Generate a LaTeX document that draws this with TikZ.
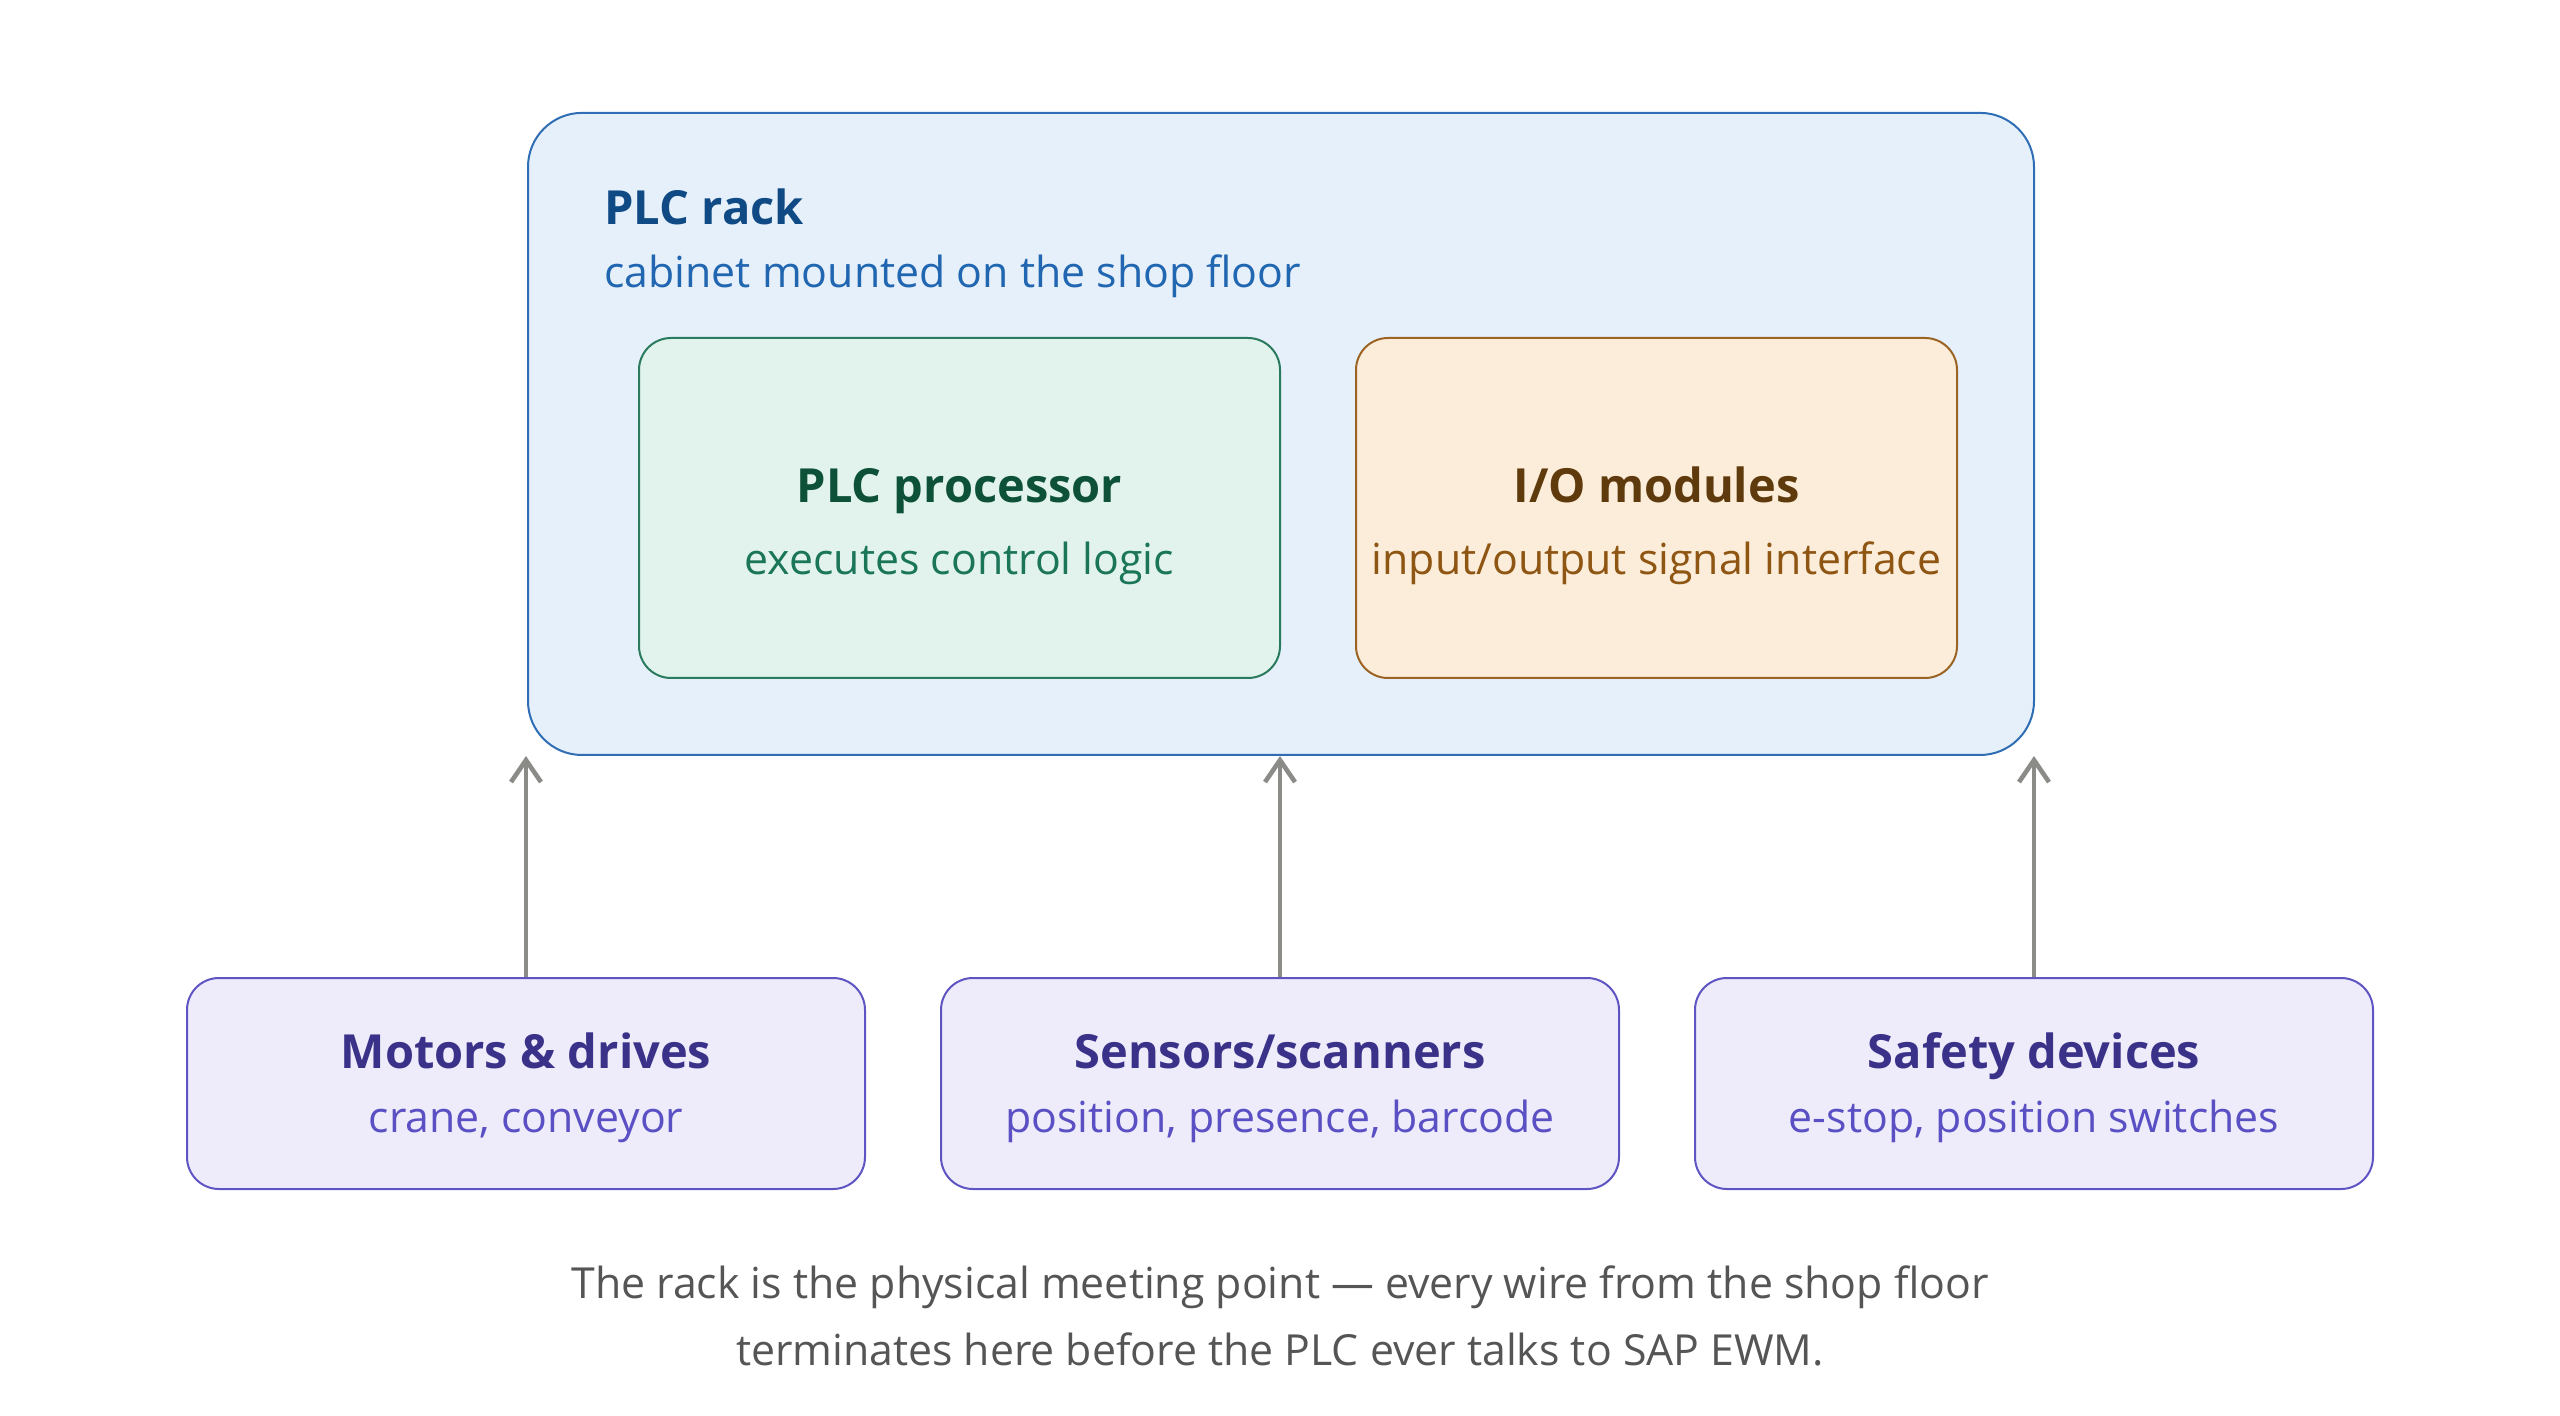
\documentclass[tikz,border=0pt]{standalone}
\usepackage{fontspec}
\setmainfont{Open Sans}
\usepackage{tikz}
\usetikzlibrary{arrows.meta, positioning, calc, fit, backgrounds}
\definecolor{rackfill}{HTML}{E6F0FA}
\definecolor{rackline}{HTML}{2F6EB5}
\definecolor{racktext}{HTML}{0F4A85}
\definecolor{racksub}{HTML}{2166B0}
\definecolor{procfill}{HTML}{E1F3EC}
\definecolor{procline}{HTML}{2A7A5E}
\definecolor{proctext}{HTML}{0D5138}
\definecolor{procsub}{HTML}{1A7559}
\definecolor{iofill}{HTML}{FBEDD9}
\definecolor{ioline}{HTML}{9B6424}
\definecolor{iotext}{HTML}{5E3A0C}
\definecolor{iosub}{HTML}{8E5513}
\definecolor{devfill}{HTML}{EEECFB}
\definecolor{devline}{HTML}{5E54C2}
\definecolor{devtext}{HTML}{3A3189}
\definecolor{devsub}{HTML}{5A50C4}
\definecolor{wire}{HTML}{8B8B87}
\definecolor{note}{HTML}{555555}
\tikzset{
  titlefont/.style={font=\fontsize{23.5}{28}\selectfont\bfseries},
  subfont/.style={font=\fontsize{21.4}{28}\selectfont},
  notefont/.style={font=\fontsize{21.4}{33.5}\selectfont},
  textline/.style={inner sep=0pt, anchor=base},
  baseblock/.style={rectangle, line width=1pt, inner sep=0pt},
  rackblock/.style={baseblock, rounded corners=27pt, draw=rackline, fill=rackfill, inner sep=38pt},
  procblock/.style={baseblock, rounded corners=16pt, draw=procline, fill=procfill,
    minimum width=320.5pt, minimum height=170pt},
  ioblock/.style={baseblock, rounded corners=16pt, draw=ioline, fill=iofill,
    minimum width=300.5pt, minimum height=170pt},
  devblock/.style={baseblock, rounded corners=16pt, draw=devline, fill=devfill,
    minimum width=339pt, minimum height=105.5pt},
  wireline/.style={draw=wire, line width=2.3pt, -{Straight Barb[length=11pt, width=15pt]}}
}
\begin{document}
\begin{tikzpicture}[x=1pt, y=-1pt]
  \useasboundingbox (0,0) rectangle (1280,708);

  % Modules inside the rack
  \node[procblock] (proc) at (479.75,254) {};
  \node[ioblock, right=37pt of proc] (io) {};
  \node[titlefont, textline, text=proctext] (proctitle) at ([yshift=2.5pt]proc.center) {PLC processor};
  \node[subfont, textline, text=procsub] (proccap) at ([yshift=-33.5pt]proc.center) {executes control logic};
  \node[titlefont, textline, text=iotext] (iotitle) at ([yshift=2.5pt]io.center) {I/O modules};
  \node[subfont, textline, text=iosub] (iocap) at ([yshift=-33.5pt]io.center) {input/output signal interface};

  % Rack heading
  \node[titlefont, textline, anchor=base west, text=racktext] (racktitle) at (302,112.5) {PLC rack};
  \node[subfont, textline, anchor=base west, text=racksub] (rackcap) at (302,144) {cabinet mounted on the shop floor};

  % Rack frame
  \begin{scope}[on background layer]
    \node[rackblock, fit=(racktitle)(proc)(io)] (rack) {};
  \end{scope}

  % Field devices
  \node[devblock] (sensors) at (640,541.75) {};
  \node[devblock, left=37pt of sensors] (motors) {};
  \node[devblock, right=37pt of sensors] (safety) {};
  \node[titlefont, textline, text=devtext] (motorstitle) at ([yshift=7.75pt]motors.center) {Motors \& drives};
  \node[subfont, textline, text=devsub] (motorscap) at ([yshift=-24.25pt]motors.center) {crane, conveyor};
  \node[titlefont, textline, text=devtext] (sensorstitle) at ([yshift=7.75pt]sensors.center) {Sensors/scanners};
  \node[subfont, textline, text=devsub] (sensorscap) at ([yshift=-24.25pt]sensors.center) {position, presence, barcode};
  \node[titlefont, textline, text=devtext] (safetytitle) at ([yshift=7.75pt]safety.center) {Safety devices};
  \node[subfont, textline, text=devsub] (safetycap) at ([yshift=-24.25pt]safety.center) {e-stop, position switches};

  % Wires up to the rack
  \foreach \dev in {motors, sensors, safety}
    \draw[wireline] (\dev.north) -- (\dev.north |- rack.south);

  % Caption
  \node[notefont, textline, align=center, text=note] (caption) at (640,682.5)
    {The rack is the physical meeting point — every wire from the shop floor\\
     terminates here before the PLC ever talks to SAP EWM.};

\end{tikzpicture}
\end{document}
